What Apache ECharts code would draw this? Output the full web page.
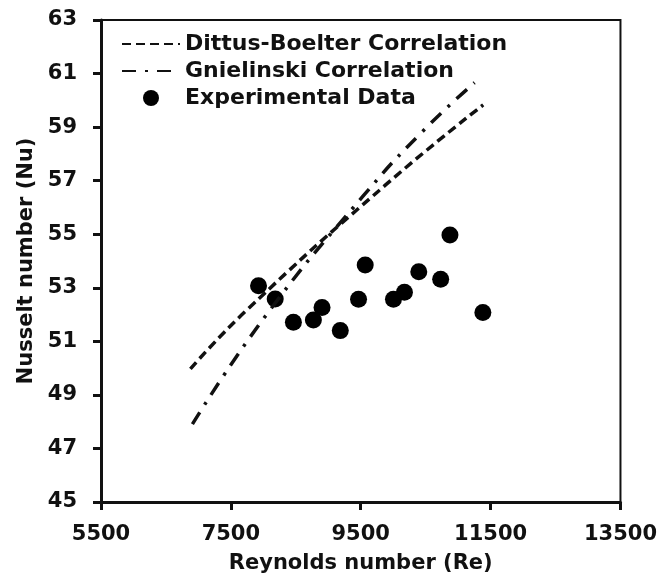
<!DOCTYPE html>
<html>
<head>
<meta charset="utf-8">
<script src="https://cdn.jsdelivr.net/npm/echarts@6/dist/echarts.min.js"></script>
<style>
  html, body { margin: 0; padding: 0; background: #fff; }
  #chart { width: 660px; height: 579px; }
</style>
</head>
<body>
<div id="chart"></div>
<script>
// values
const expRe = [7926, 8183, 8463, 8771, 8904, 9185, 9466, 9569, 10004, 10173, 10394, 10731, 10874, 11381];
const expNu = [53.08, 52.58, 51.71, 51.80, 52.26, 51.40, 52.57, 53.85, 52.57, 52.83, 53.60, 53.32, 54.97, 52.08];

const dittusRe = [6877, 7737, 9887, 11386];
const dittusNu = [49.97, 52.15, 56.85, 59.83];

const gnielRe = [6908, 8044, 9528, 10449, 11253];
const gnielNu = [47.91, 51.98, 56.40, 58.83, 60.66];

const seriesNames = ["Dittus-Boelter Correlation", "Gnielinski Correlation", "Experimental Data"];

const FONT = "DejaVu Sans";
const INK = "#111";

const zip = (xs, ys) => xs.map((x, i) => [x, ys[i]]);

const chart = echarts.init(document.getElementById("chart"));

// line entries get an invisible marker so only the dash pattern shows
const legendData = seriesNames.map((name, i) =>
  i < 2 ? { name, itemStyle: { color: "transparent", borderWidth: 0 } } : { name });

chart.setOption({
  backgroundColor: "#fff",
  animation: false,
  grid: {
    left: 101, top: 20, right: 38, bottom: 77,
    show: true, borderColor: INK, borderWidth: 2, backgroundColor: "transparent",
  },
  legend: {
    orient: "vertical",
    left: 116, top: 28,
    itemWidth: 58, itemHeight: 16, itemGap: 5,
    data: legendData,
    textStyle: { fontFamily: FONT, fontWeight: "bold", fontSize: 22, color: INK },
  },
  xAxis: {
    type: "value",
    min: 5500, max: 13500, interval: 2000,
    name: "Reynolds number (Re)",
    nameLocation: "middle", nameGap: 51,
    nameTextStyle: { fontFamily: FONT, fontWeight: "bold", fontSize: 21, color: INK },
    axisLine: { onZero: false, lineStyle: { color: INK, width: 3 } },
    axisTick: { show: true, inside: false, length: 8, lineStyle: { color: INK, width: 3 } },
    axisLabel: {
      margin: 22, fontFamily: FONT, fontWeight: "bold", fontSize: 21, color: INK,
      formatter: v => String(v),
    },
    splitLine: { show: false },
  },
  yAxis: {
    type: "value",
    min: 45, max: 63, interval: 2,
    name: "Nusselt number (Nu)",
    nameLocation: "middle", nameGap: 64,
    nameTextStyle: { fontFamily: FONT, fontWeight: "bold", fontSize: 21, color: INK },
    axisLine: { onZero: false, lineStyle: { color: INK, width: 3 } },
    axisTick: { show: true, inside: false, length: 8, lineStyle: { color: INK, width: 3 } },
    axisLabel: { margin: 24, fontFamily: FONT, fontWeight: "bold", fontSize: 21, color: INK },
    splitLine: { show: false },
  },
  series: [
    {
      name: seriesNames[0],
      type: "line",
      smooth: true,
      symbol: "none",
      data: zip(dittusRe, dittusNu),
      lineStyle: { color: INK, width: 3.5, type: [9, 5] },
      itemStyle: { color: INK },
    },
    {
      name: seriesNames[1],
      type: "line",
      smooth: true,
      symbol: "none",
      data: zip(gnielRe, gnielNu),
      lineStyle: { color: INK, width: 3.5, type: [14, 9, 3, 9] },
      itemStyle: { color: INK },
    },
    {
      name: seriesNames[2],
      type: "scatter",
      symbol: "circle",
      symbolSize: 17,
      data: zip(expRe, expNu),
      itemStyle: { color: "#000", opacity: 1 },
    },
  ],
});
</script>
</body>
</html>
